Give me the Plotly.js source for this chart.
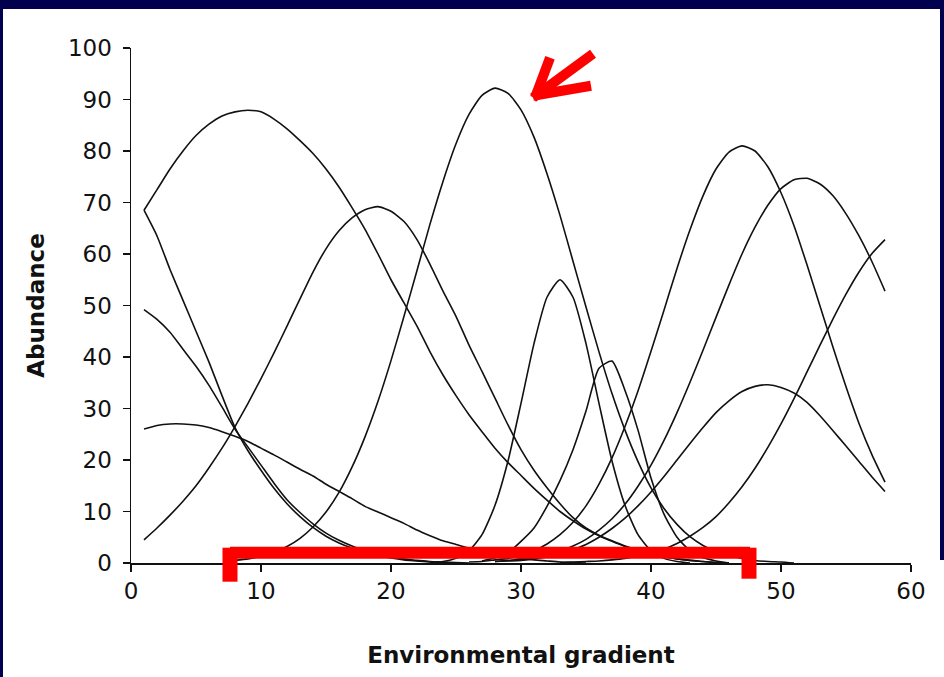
<!DOCTYPE html>
<html>
<head>
<meta charset="utf-8">
<script src="https://cdn.plot.ly/plotly-3.0.1.min.js"></script>
<style>
  html, body { margin: 0; padding: 0; background: #ffffff; width: 944px; height: 677px; overflow: hidden; }
  #chart { position: absolute; left: 3px; top: 9px; width: 937px; height: 668px; background: #ffffff; }
  .band { position: absolute; background: #00004f; }
</style>
</head>
<body>
<div id="chart"></div>
<div class="band" style="left:0;top:0;width:944px;height:9px;"></div>
<div class="band" style="left:0;top:0;width:3px;height:677px;"></div>
<div class="band" style="left:940px;top:0;width:4px;height:560px;"></div>
<script>
// x positions along the gradient (1..58)
const xs = [1,2,3,4,5,6,7,8,9,10,11,12,13,14,15,16,17,18,19,20,21,22,23,24,25,26,27,28,29,30,
            31,32,33,34,35,36,37,38,39,40,41,42,43,44,45,46,47,48,49,50,51,52,53,54,55,56,57,58];
const N = null;

// species abundance curves, one value per x in xs (null = not drawn)
const spA = [68.5,72.5,76.5,80,83,85.2,86.8,87.6,87.9,87.6,86.2,84.3,82,79.5,76.5,73,69,64.8,60,55,
             50.5,46,41,36.5,32.5,28.8,25.5,22.3,19.5,17,14.5,12.2,10,8.2,6.6,5.3,4.2,3.2,2.4,1.7,
             1.2,0.8,0.5,0.3,0.1,0,N,N,N,N,N,N,N,N,N,N,N,N];
const spB = [4.5,6.8,9.3,12,15,18.5,22.3,26.5,31,35.8,40.8,46,51.3,56.5,61,64.5,67,68.6,69.2,68.3,
             66.3,62.8,58,52.8,47.9,42.3,37.2,32,26.8,22,18,14.6,11.5,8.8,6.8,5.4,4.3,3.3,2.5,1.8,
             1.2,0.8,0.5,0.3,0.1,0,N,N,N,N,N,N,N,N,N,N,N,N];
const spC = [N,N,N,N,N,N,N,0.5,0.8,1.3,2.1,3.2,4.8,7,9.9,13.7,18.6,24.5,31.4,39.3,
             47.9,56.8,65.8,74.1,81.4,87.1,90.8,92.2,91.2,88,82.7,75.6,67.5,58.6,49.7,41,32.9,25.8,19.7,14.6,
             10.6,7.5,5.1,3.4,2.2,1.4,0.9,0.5,0.3,0.2,0,N,N,N,N,N,N,N];
const spD = [N,N,N,N,N,N,N,N,N,N,N,N,N,N,N,N,N,N,N,N,
             N,N,0.1,0.3,0.9,2.4,5.5,11.2,19.8,31,42.6,51.6,55,51.6,42.6,31,19.8,11.2,5.5,2.4,
             0.9,0.3,0,N,N,N,N,N,N,N,N,N,N,N,N,N,N,N];
const spE = [N,N,N,N,N,N,N,N,N,N,N,N,N,N,N,N,N,N,N,N,
             N,N,N,N,N,N,0.4,1,2,4.2,6.8,11,16,22,29.5,37.8,39.2,33.5,25.8,16.5,
             9.5,5,2.4,1,0.4,0,N,N,N,N,N,N,N,N,N,N,N,N];
const spF = [N,N,N,N,N,N,N,N,N,N,N,N,N,N,N,N,N,N,N,N,
             N,N,N,N,N,0.2,0.3,0.6,0.9,1.5,2.4,3.7,5.5,7.9,11.1,15.3,20.4,26.5,33.4,41.1,
             49.1,57.2,64.7,71.3,76.5,79.8,81,80,76.9,71.9,65.5,57.9,49.9,41.9,34.2,27.1,21,15.7];
const spG = [N,N,N,N,N,N,N,N,N,N,N,N,N,N,N,N,N,N,N,N,
             N,N,N,N,N,N,N,0.3,0.5,0.7,1,1.5,2.3,3.3,4.6,6.4,8.6,11.4,14.9,19,
             23.8,29.2,35.1,41.3,47.7,54,60,65.2,69.5,72.7,74.4,74.7,73.6,71.3,67.8,63.5,58.5,52.8];
const spH = [N,N,N,N,N,N,N,N,N,N,N,N,N,N,N,N,N,N,N,N,
             N,N,N,N,N,N,N,0.3,0.4,0.5,0.8,1.2,1.8,2.6,3.6,5,6.7,8.7,11.1,13.8,
             16.8,20,23.2,26.3,29.2,31.5,33.3,34.3,34.6,34.1,33,31.2,28.6,25.7,22.7,19.7,16.7,13.9];
const spI = [N,N,N,N,N,N,N,N,N,N,N,N,N,N,N,N,N,N,N,N,
             N,N,N,N,N,N,N,N,N,N,N,N,0.1,0.2,0.3,0.4,0.6,0.9,1.4,1.9,
             2.7,3.8,5.2,6.9,9,11.7,14.8,18.4,22.5,27,31.9,37.1,42.3,47.4,52.2,56.5,60.1,62.8];
const spJ = [49.2,47.3,44.8,41.5,38.2,34.5,30.3,26,22.5,19,15.5,12.3,9.8,7.6,5.8,4.4,3.3,2.4,1.6,1.1,
             0.8,0.5,0.3,0.2,0.1,0,N,N,N,N,N,N,N,N,N,N,N,N,N,N,
             N,N,N,N,N,N,N,N,N,N,N,N,N,N,N,N,N,N];
const spK = [26,26.7,27,27,26.8,26.3,25.5,24.6,23.6,22.3,21,19.6,18.2,16.9,15.3,13.9,12.5,11,9.9,8.8,
             7.7,6.4,5.3,4.3,3.6,2.9,2.3,1.8,1.3,0.9,0.6,0.4,0.2,0.1,0,N,N,N,N,N,
             N,N,N,N,N,N,N,N,N,N,N,N,N,N,N,N,N,N];
const spL = [68.5,63.5,57,51,45,39,32.5,26.3,21.8,18,14.5,11.5,9,6.9,5.2,3.9,2.9,2.1,1.4,1,
             0.6,0.4,0.2,0.1,0,N,N,N,N,N,N,N,N,N,N,N,N,N,N,N,
             N,N,N,N,N,N,N,N,N,N,N,N,N,N,N,N,N,N];

const series = [spA, spB, spC, spD, spE, spF, spG, spH, spI, spJ, spK, spL];
const xTicks = [0,10,20,30,40,50,60];
const yTicks = [0,10,20,30,40,50,60,70,80,90,100];

const traces = series.map(ys => ({
  x: xs, y: ys, type: 'scatter', mode: 'lines',
  line: { color: '#111111', width: 1.6, shape: 'spline', smoothing: 0.6 },
  connectgaps: false, hoverinfo: 'none', showlegend: false
}));

// paper coordinate helpers for the red annotation marks (pixel positions of the page)
const L0 = 131, T0 = 48.3, W = 780, H = 515;
const px = v => (v - L0) / W;
const py = v => (T0 + H - v) / H;
const red = '#ff0000';
function seg(x0, y0, x1, y1, w) {
  return { type: 'line', xref: 'paper', yref: 'paper', x0: px(x0), y0: py(y0), x1: px(x1), y1: py(y1),
           line: { color: red, width: w }, layer: 'above' };
}
const shapes = [
  seg(230, 553, 750, 553, 12),
  seg(230, 548, 230, 582, 15),
  seg(749, 548, 749, 579, 15),
  seg(533, 98, 593, 54, 10),
  seg(535, 98, 550, 58, 10),
  seg(533, 96, 591, 86, 10)
];

const axisFont = { family: 'DejaVu Sans, Arial, sans-serif', size: 23, color: '#111111' };
const titleFont = { family: 'DejaVu Sans, Arial, sans-serif', size: 23, color: '#111111', weight: 'bold' };

const layout = {
  width: 937, height: 668,
  margin: { l: 128, r: 29, t: 39, b: 114, pad: 0 },
  paper_bgcolor: '#ffffff', plot_bgcolor: '#ffffff',
  showlegend: false,
  xaxis: {
    range: [0, 60], tickvals: xTicks, ticktext: xTicks.map(String),
    showgrid: false, zeroline: false, showline: true, linecolor: '#111111', linewidth: 1.5,
    ticks: 'outside', ticklen: 7, tickwidth: 1.5, tickcolor: '#111111',
    tickfont: axisFont, automargin: false,
    title: { text: 'Environmental gradient', font: titleFont, standoff: 44 }
  },
  yaxis: {
    range: [0, 100], tickvals: yTicks, ticktext: yTicks.map(String),
    showgrid: false, zeroline: false, showline: true, linecolor: '#111111', linewidth: 1.5,
    ticks: 'outside', ticklen: 7, tickwidth: 1.5, tickcolor: '#111111',
    tickfont: axisFont, automargin: false, ticklabelstandoff: 6,
    title: { text: 'Abundance', font: titleFont, standoff: 17 }
  },
  shapes: shapes
};

Plotly.newPlot('chart', traces, layout, { displayModeBar: false, staticPlot: true });
</script>
</body>
</html>
